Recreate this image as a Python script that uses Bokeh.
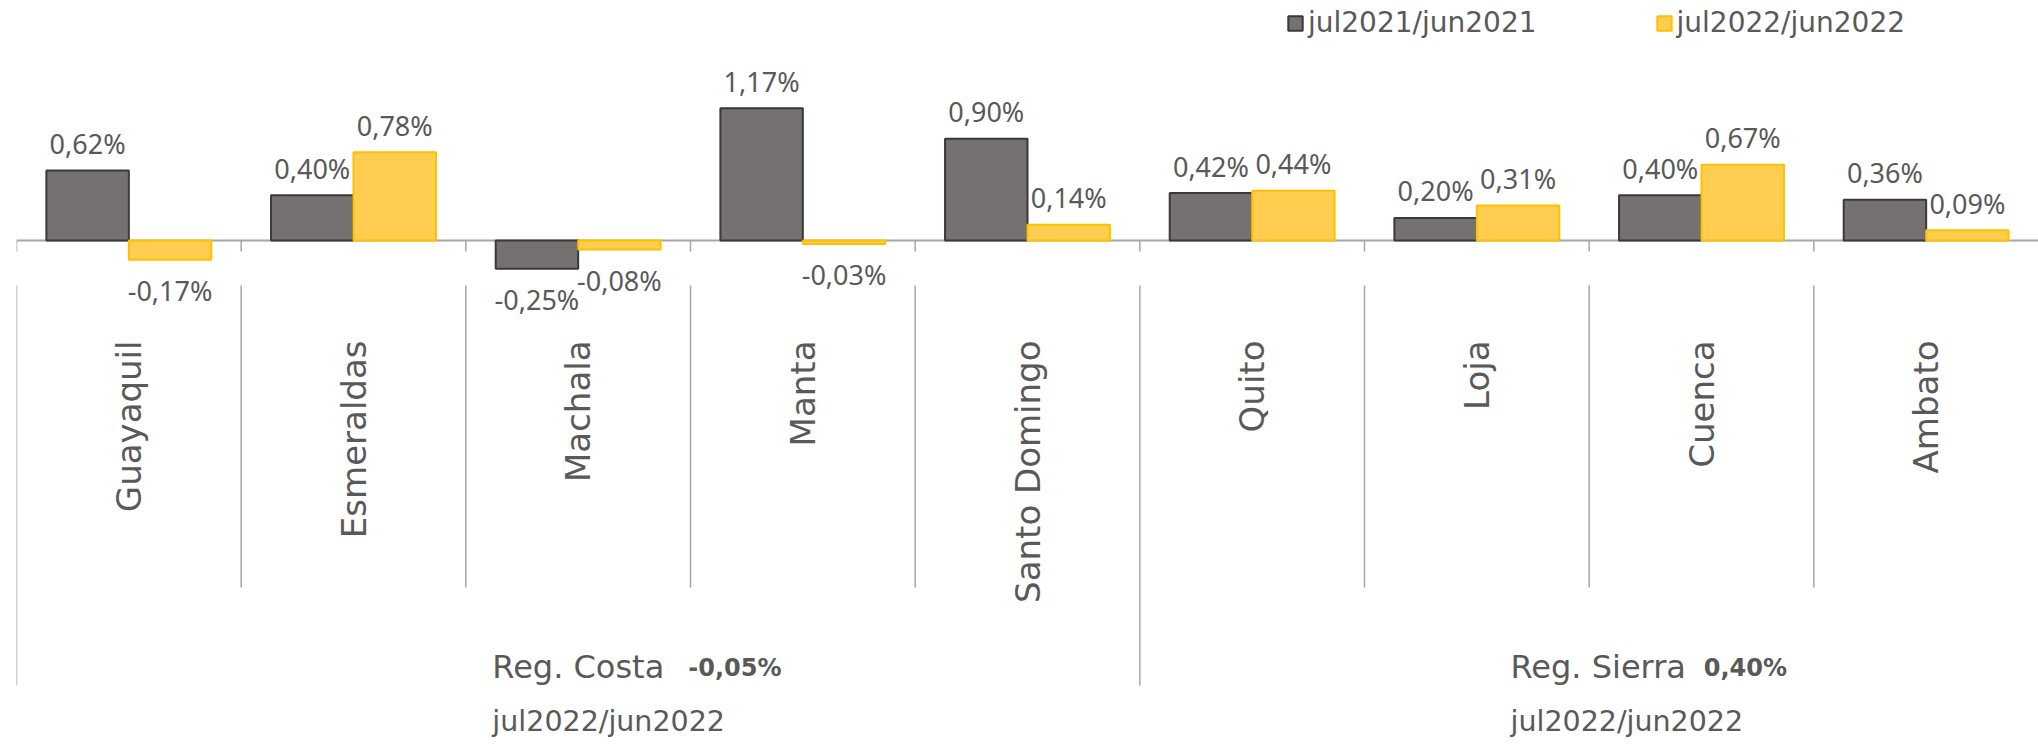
import math
from bokeh.plotting import figure
from bokeh.models import ColumnDataSource, FactorRange, Range1d, Legend, LegendItem
from bokeh.transform import dodge
from bokeh.core.properties import value
from bokeh.embed import file_html
from bokeh.resources import INLINE

# ---------------- data ----------------
cities = ["Guayaquil", "Esmeraldas", "Machala", "Manta", "Santo Domingo",
          "Quito", "Loja", "Cuenca", "Ambato"]
series_names = ["jul2021/jun2021", "jul2022/jun2022"]
v2021 = [0.62, 0.40, -0.25, 1.17, 0.90, 0.42, 0.20, 0.40, 0.36]
v2022 = [-0.17, 0.78, -0.08, -0.03, 0.14, 0.44, 0.31, 0.67, 0.09]
regions = ["Reg. Costa", "Reg. Sierra"]
region_sizes = [5, 4]
region_values = [-0.05, 0.40]
region_period = "jul2022/jun2022"

# ---------------- layout / style ----------------
W, H = 2038, 744
PX = 113.0           # pixels per 1 percentage point
ZERO_WIN = 240       # window y of the zero line
TOP_WIN = 0          # window y of frame top


def yw(wy):
    """window y pixel -> data y"""
    return (ZERO_WIN - wy) / PX


FONT_NAME = "DejaVu Sans"
FONT = value(FONT_NAME)
LBL_FONT = value("Noto Sans")
TXT = "#595959"
GRAY_FILL, GRAY_LINE = "#767171", "#3B3838"
YEL_FILL, YEL_LINE = "#FFCD4F", "#FFC000"
AXIS_C = "#A6A6A6"
BW = 0.367


def fmt(v):
    return f"{v:.2f}".replace(".", ",") + "%"


y_top = (ZERO_WIN - TOP_WIN) / PX
y_bot = -(TOP_WIN + H - ZERO_WIN) / PX

p = figure(width=W, height=H, x_range=FactorRange(factors=cities),
           y_range=Range1d(y_bot, y_top), output_backend="svg",
           toolbar_location=None, x_axis_location=None, y_axis_location=None,
           min_border_left=16, min_border_right=0, min_border_top=0,
           min_border_bottom=0)
p.outline_line_color = None
p.xgrid.visible = False
p.ygrid.visible = False
p.background_fill_color = "white"

src = ColumnDataSource(dict(
    city=cities, a=v2021, b=v2022,
    la=[fmt(v) for v in v2021], lb=[fmt(v) for v in v2022],
    oa=[-27 if v >= 0 else 31 for v in v2021],
    ob=[-27 if v >= 0 else 31 for v in v2022],
))

n = len(cities)
bounds = list(range(n))
# zero line + short ticks
p.segment(x0=[0], x1=[n], y0=[0], y1=[0], line_color=AXIS_C, line_width=2)
p.segment(x0=bounds, x1=bounds, y0=[0] * n, y1=[yw(251)] * n,
          line_color=AXIS_C, line_width=1.5)

# separators of the category level and the region level
outer = [0]
acc = 0
for s in region_sizes[:-1]:
    acc += s
    outer.append(acc)
inner = [b for b in bounds if b not in outer]
p.segment(x0=inner, x1=inner, y0=[yw(285)] * len(inner), y1=[yw(587)] * len(inner),
          line_color=AXIS_C, line_width=1.5)
p.segment(x0=outer, x1=outer, y0=[yw(285)] * len(outer), y1=[yw(685)] * len(outer),
          line_color=AXIS_C, line_width=1.5)

ra = p.vbar(x=dodge("city", -BW / 2, range=p.x_range), top="a", bottom=0, width=BW,
            source=src, fill_color=GRAY_FILL, line_color=GRAY_LINE, line_width=2)
rb = p.vbar(x=dodge("city", BW / 2, range=p.x_range), top="b", bottom=0, width=BW,
            source=src, fill_color=YEL_FILL, line_color=YEL_LINE, line_width=2)

p.text(x=dodge("city", -BW / 2, range=p.x_range), y="a", text="la", y_offset="oa",
       source=src, text_align="center", text_baseline="alphabetic",
       text_font=LBL_FONT, text_font_size="27px", text_color=TXT)
p.text(x=dodge("city", BW / 2, range=p.x_range), y="b", text="lb", y_offset="ob",
       source=src, text_align="center", text_baseline="alphabetic",
       text_font=LBL_FONT, text_font_size="27px", text_color=TXT)

# category labels (vertical)
p.text(x="city", y=yw(340), text="city", source=src, angle=math.pi / 2,
       text_align="right", text_baseline="middle",
       text_font=FONT, text_font_size="34px", text_color=TXT)

# region labels
label_x = [2.118, 6.65]
value_x = [2.99, 7.51]
rsrc = ColumnDataSource(dict(
    lx=label_x, vx=value_x, name=regions,
    val=[fmt(v) for v in region_values],
    per=[region_period] * len(regions),
))
p.text(x="lx", y=yw(666), text="name", source=rsrc, text_align="left",
       text_baseline="alphabetic", text_font=FONT, text_font_size="32px", text_color=TXT)
p.text(x="vx", y=yw(667), text="val", source=rsrc, text_align="left",
       text_baseline="alphabetic", text_font=FONT, text_font_size="24px",
       text_font_style="bold", text_color=TXT)
p.text(x="lx", y=yw(721), text="per", source=rsrc, text_align="left",
       text_baseline="alphabetic", text_font=FONT, text_font_size="28.5px", text_color=TXT)

legend = Legend(items=[LegendItem(label=series_names[0], renderers=[ra]),
                       LegendItem(label=series_names[1], renderers=[rb])],
                orientation="horizontal", location=(1270, H - 39),
                glyph_width=18, glyph_height=18, label_standoff=4, spacing=118,
                padding=0, margin=0, border_line_color=None,
                background_fill_alpha=0,
                label_text_font=FONT_NAME, label_text_font_size="28px",
                label_text_color=TXT)
p.add_layout(legend, "center")

open("out.html", "w").write(file_html(p, INLINE))
